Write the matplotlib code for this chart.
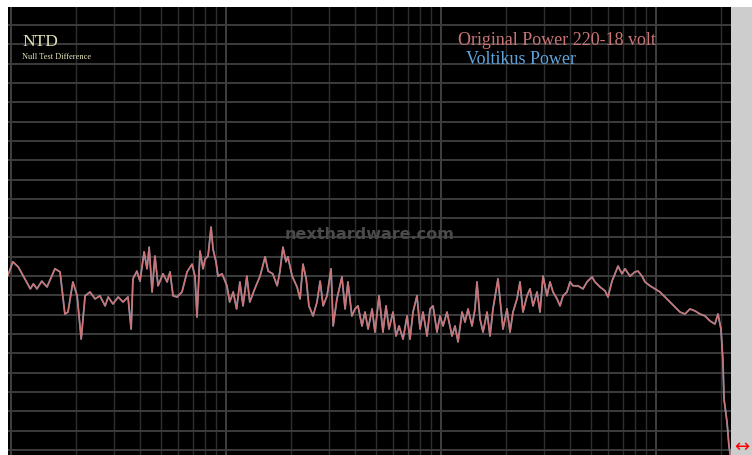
import numpy as np
import matplotlib.pyplot as plt

##### Null test difference: frequency (Hz) vs level (dB) #####

freq_hz = [9.68, 10.2, 10.8, 11.6, 12.3, 12.7, 13.2, 13.9, 14.7, 16.0,
           16.9, 17.8, 18.4, 19.4, 20.3, 21.2, 22.1, 23.3, 24.6, 25.9,
           27.4, 28.3, 29.8, 31.5, 33.2, 35.0, 36.2, 36.9, 38.5, 39.8,
           41.6, 42.9, 43.9, 45.3, 46.7, 48.3, 50.9, 53.2, 54.9, 56.7,
           59.2, 62.4, 65.9, 69.5, 71.7, 73.3, 75.7, 78.2, 79.9, 82.5,
           85.2, 87.0, 89.8, 91.8, 95.8, 101, 104, 108, 112, 116,
           120, 125, 129, 136, 144, 152, 157, 165, 173, 178,
           184, 190, 194, 203, 214, 221, 228, 236, 243, 254,
           265, 274, 283, 295, 308, 315, 328, 346, 358, 369,
           385, 398, 411, 429, 443, 458, 478, 493, 515, 537,
           555, 573, 598, 618, 638, 666, 695, 717, 741, 773,
           799, 825, 861, 889, 918, 958, 989, 1022, 1066, 1125,
           1162, 1200, 1253, 1293, 1336, 1394, 1439, 1470, 1519, 1568,
           1637, 1690, 1745, 1841, 1881, 1942, 2028, 2094, 2162, 2257,
           2330, 2406, 2512, 2594, 2679, 2796, 2887, 2982, 3112, 3214,
           3319, 3464, 3577, 3694, 3855, 3981, 4111, 4337, 4576, 4776,
           5039, 5203, 5489, 5791, 5980, 6242, 6446, 6657, 6948, 7175,
           7570, 7986, 8247, 8608, 8889, 9378, 9893, 10437, 11011, 11616,
           12255, 12929, 13640, 14390, 15181, 16016, 16897, 17826, 18806, 19422,
           20059, 20493, 20715, 21390, 21853, 22327]

original_db = [-64.7, -61.3, -62.6, -65.7, -68.3, -67.0, -68.3, -66.3, -67.8, -63.1,
               -63.9, -74.8, -74.3, -66.5, -70.1, -81.3, -70.1, -69.1, -70.9, -70.1,
               -72.7, -70.4, -72.2, -70.4, -71.7, -70.4, -78.7, -65.7, -63.7, -66.3,
               -58.7, -63.1, -57.5, -69.1, -59.8, -67.5, -64.4, -66.5, -63.9, -70.1,
               -70.4, -69.1, -63.9, -61.9, -65.0, -75.6, -58.5, -63.1, -60.6, -59.8,
               -52.3, -58.0, -61.3, -65.0, -64.4, -67.5, -71.7, -69.1, -73.5, -66.5,
               -72.7, -65.0, -71.7, -68.3, -65.0, -60.0, -63.7, -64.4, -67.5, -63.9,
               -57.5, -61.3, -60.0, -65.0, -67.8, -70.9, -61.9, -65.7, -72.7, -75.3,
               -71.7, -66.3, -72.7, -70.1, -63.1, -77.9, -70.9, -65.2, -73.5, -66.5,
               -75.3, -73.5, -72.7, -77.9, -74.3, -78.7, -73.5, -79.5, -70.1, -79.5,
               -72.7, -78.7, -74.3, -80.5, -77.9, -81.3, -75.3, -81.3, -74.3, -70.1,
               -78.7, -74.3, -80.5, -73.5, -72.7, -79.5, -75.3, -77.9, -74.3, -80.5,
               -77.9, -82.0, -74.3, -76.9, -73.5, -77.9, -73.5, -66.5, -76.1, -79.5,
               -74.3, -80.5, -73.5, -65.7, -70.9, -78.7, -73.5, -79.5, -74.3, -70.9,
               -66.5, -74.3, -70.1, -68.3, -72.7, -69.1, -74.3, -65.0, -70.1, -66.5,
               -69.1, -70.9, -72.7, -70.1, -69.1, -66.5, -67.5, -67.5, -68.3, -66.5,
               -65.2, -66.5, -67.8, -68.8, -70.4, -66.3, -64.4, -62.4, -64.4, -63.1,
               -65.0, -63.9, -63.7, -65.0, -66.5, -67.5, -68.3, -69.1, -70.4, -71.7,
               -73.0, -74.3, -74.8, -73.5, -74.0, -74.8, -75.3, -76.6, -77.4, -74.8,
               -78.7, -87.2, -96.8, -102.7, -109.0, -112.3]

# second unit measures almost on top of the first
voltikus_db = list(original_db)

grid_db = list(range(0, -115, -5))
decades_hz = [10, 100, 1000, 10000]

fig = plt.figure(figsize=(7.52, 4.56), dpi=100, facecolor='white')

# light grey strip on the right of the plot
strip = fig.add_axes([731 / 752, 0, 21 / 752, 448 / 456])
strip.set_facecolor('#cdcdcd')
strip.set_xticks([])
strip.set_yticks([])
for s in strip.spines.values():
    s.set_visible(False)

ax = fig.add_axes([8 / 752, 0, 723 / 752, 448 / 456])
ax.set_facecolor('black')
ax.set_xscale('log')
ax.set_xlim(9.68, 22330)
ax.set_ylim(-111.3, 4.66)

# grid
minor_hz = [m * d for d in decades_hz for m in range(2, 10)]
for f in minor_hz:
    ax.axvline(f, color='#2e2e2e', lw=1.0, zorder=1)
for f in decades_hz:
    ax.axvline(f, color='#444444', lw=1.3, zorder=1)
for g in grid_db:
    ax.axhline(g, color='#3c3c3c', lw=1.4, zorder=1)

ax.text(0.5, 0.495, 'nexthardware.com', transform=ax.transAxes,
        ha='center', va='center', color='#4a4a4a', fontsize=11.5,
        fontweight='bold', family='DejaVu Sans', zorder=2)

ax.plot(freq_hz, voltikus_db, color='#9cc4ea', lw=1.3, alpha=0.7, zorder=3)
ax.plot(freq_hz, original_db, color='#d27272', lw=1.0, zorder=4)

ax.set_xticks([])
ax.set_yticks([])
ax.minorticks_off()
for s in ax.spines.values():
    s.set_visible(False)

# labels
ax.text(14 / 723, 1 - 38 / 448, 'NTD', transform=ax.transAxes,
        color='#e4e4b8', fontsize=12.5, family='Liberation Serif', va='baseline')
ax.text(14 / 723, 1 - 51 / 448, 'Null Test Difference', transform=ax.transAxes,
        color='#e4e4b8', fontsize=6, family='Liberation Serif', va='baseline')
ax.text(450 / 723, 1 - 37 / 448, 'Original Power 220-18 volt', transform=ax.transAxes,
        color='#c87474', fontsize=13, family='Liberation Serif', va='baseline')
ax.text(458 / 723, 1 - 56 / 448, 'Voltikus Power', transform=ax.transAxes,
        color='#5fa3dc', fontsize=13, family='Liberation Serif', va='baseline')

fig.text(742 / 752, 1 - 447 / 456, '\u2194', color='red', fontsize=13,
         ha='center', va='center', family='DejaVu Sans')

fig.savefig('out.png', dpi=100, facecolor='white')
